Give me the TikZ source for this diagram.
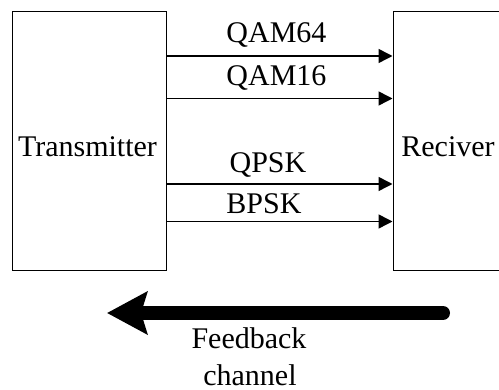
\documentclass[tikz,border=0pt]{standalone}
\usepackage{fontspec}
\setmainfont{Liberation Serif}
\usetikzlibrary{arrows.meta}
\begin{document}
\begin{tikzpicture}[x=1pt,y=-1pt,
  block/.style={draw,line width=1pt,rectangle,inner sep=0pt},
  lbl/.style={font=\fontsize{30}{36}\selectfont,anchor=base,inner sep=0pt},
  sig/.style={line width=1.5pt,-{Triangle[length=14pt,width=14pt]}},
  fb/.style={line width=14pt,line cap=round,-{Stealth[length=40pt,width=42pt,inset=6pt]}}]
\useasboundingbox (0,0) rectangle (499,390);
% transmitter and receiver blocks
\node[block,minimum width=154pt,minimum height=259pt] (tx) at (89,141.5) {};
\node[block,minimum width=112pt,minimum height=259pt] (rx) at (449,141.5) {};
\node[lbl] (txl) at (87.5,157) {Transmitter};
\node[lbl] (rxl) at (448,157) {Reciver};
% modulation channels
\coordinate (y1) at (0,56);
\coordinate (y2) at (0,98.5);
\coordinate (y3) at (0,184);
\coordinate (y4) at (0,221.5);
\draw[sig] (tx.east |- y1) -- (rx.west |- y1);
\draw[sig] (tx.east |- y2) -- (rx.west |- y2);
\draw[sig] (tx.east |- y3) -- (rx.west |- y3);
\draw[sig] (tx.east |- y4) -- (rx.west |- y4);
\node[lbl] (m1) at (276.5,43) {QAM64};
\node[lbl] (m2) at (276.5,85.5) {QAM16};
\node[lbl] (m3) at (268,173) {QPSK};
\node[lbl] (m4) at (264,214) {BPSK};
% feedback path
\coordinate (fbR) at (443,313);
\coordinate (fbL) at (107,313);
\draw[fb] (fbR) -- (fbL);
\node[lbl] (fbt1) at (249,349) {Feedback};
\node[lbl] (fbt2) at (250,386) {channel};
\end{tikzpicture}
\end{document}
